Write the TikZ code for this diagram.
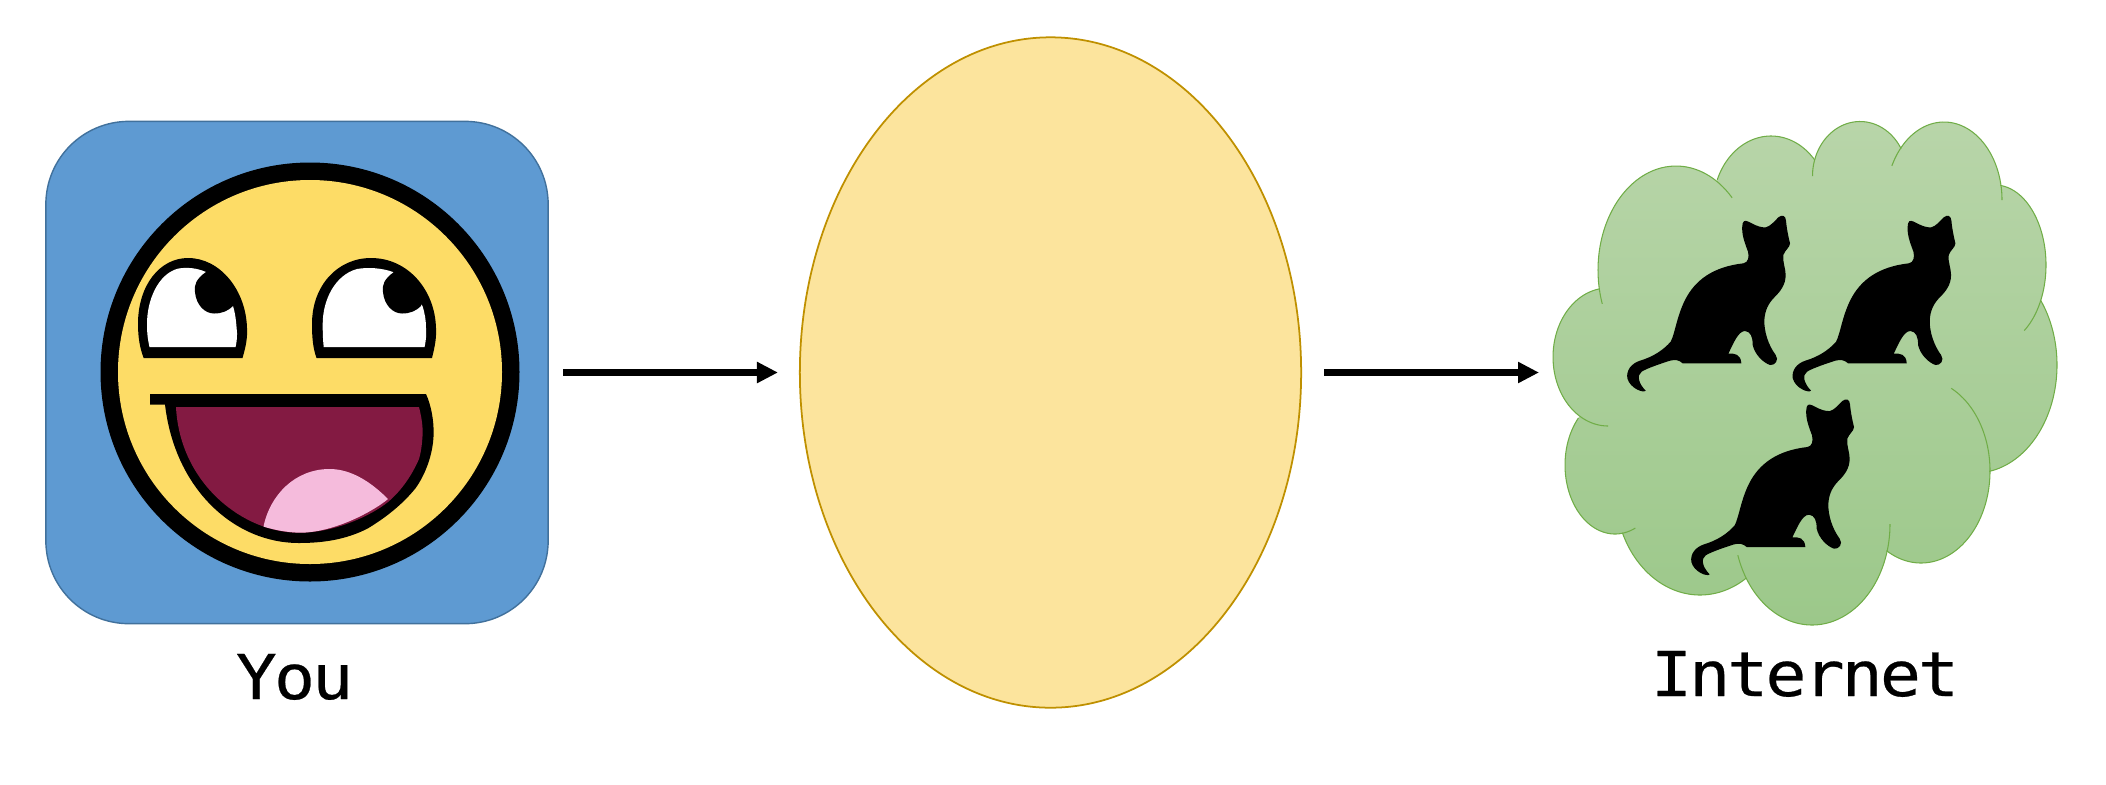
\documentclass[tikz,border=0pt]{standalone}
\usepackage{fontspec}
\setmonofont[FakeStretch=1.1,LetterSpace=-4.6,FakeBold=.4]{DejaVu Sans Mono}
\usetikzlibrary{arrows.meta,shapes.geometric}
\definecolor{BoxBlue}{HTML}{5E9AD2}
\definecolor{BoxEdge}{HTML}{41719C}
\definecolor{Sun}{HTML}{FDDC66}
\definecolor{Mouth}{HTML}{831A42}
\definecolor{Tongue}{HTML}{F5BBDC}
\definecolor{Gold}{HTML}{FCE49D}
\definecolor{GoldEdge}{HTML}{BF9000}
\definecolor{LeafTop}{HTML}{B8D5A9}
\definecolor{LeafLow}{HTML}{9CC88A}
\definecolor{LeafEdge}{HTML}{70AD47}
% cx/cy/rx/ry/from/to of each bump of the cloud
\newcommand{\lobes}{1608/357/55/69/90/261,1615/465/50/69/66/223,1700/490/85/105/57/156,1812/524/78/101/0/162,
  1921/471/69/92/-64/120,1975/365/82/108/-37/80,1995/265/51/80/-84/55,1944/200/58/78/-154/0,
  1860/176/47.5/54.5/-180/-30,1771/206/58/70/-158/-41,1676/270/78/104/-199/-44}
\tikzset{
  >={Triangle[length=2.1mm,width=2mm]},
  youbox/.style={draw=BoxEdge,fill=BoxBlue,line width=.4pt,rounded corners=8.3mm,minimum width=5.02cm,minimum height=5.02cm,inner sep=0pt},
  hole/.style={ellipse,draw=GoldEdge,fill=Gold,line width=.5pt,minimum width=5.01cm,minimum height=6.70cm,inner sep=0pt},
  flow/.style={->,line width=2pt,draw=black},
  lab/.style={font=\ttfamily\fontsize{17.6}{20}\selectfont,anchor=base,inner sep=0pt},
  cloudline/.style={draw=LeafEdge,line width=.3pt},
  cloudbody/.style={top color=LeafTop,bottom color=LeafLow},
  cat/.pic={
    \fill[black,scale=1/3] (368,70) .. controls (372,58) and (380,62) .. (395,70)
      .. controls (410,78) and (425,83) .. (437,82) .. controls (450,80) and (465,62) .. (475,52)
      .. controls (487,42) and (497,48) .. (498,62) .. controls (500,85) and (505,110) .. (510,130)
      .. controls (510,142) and (495,150) .. (490,165) .. controls (487,185) and (497,205) .. (497,225)
      .. controls (497,255) and (480,275) .. (465,290) .. controls (445,310) and (435,330) .. (433,360)
      .. controls (432,395) and (445,435) .. (467,465) .. controls (478,480) and (465,497) .. (450,495)
      .. controls (430,488) and (405,465) .. (398,435) .. controls (398,410) and (392,395) .. (375,393)
      .. controls (355,393) and (340,430) .. (325,461) .. controls (345,460) and (362,462) .. (364,490)
      -- (188,490) .. controls (178,480) and (165,478) .. (150,482) .. controls (125,490) and (80,505) .. (65,515)
      .. controls (50,525) and (55,550) .. (77,572) .. controls (70,580) and (30,565) .. (22,535)
      .. controls (18,510) and (35,490) .. (60,482) .. controls (100,470) and (130,450) .. (152,425)
      .. controls (165,400) and (170,350) .. (195,300) .. controls (225,240) and (280,200) .. (370,190)
      .. controls (385,188) and (388,170) .. (384,155) .. controls (375,130) and (362,100) .. (368,70) -- cycle;
  }
}
\begin{document}
\begin{tikzpicture}[x=.01cm,y=-.01cm]
  \useasboundingbox (0,0) rectangle (2106,784);
  \node[youbox] (you) at (297,372.5) {};
  \node[hole] (middle) at (1050.5,372.5) {};
  \coordinate (net) at (1553,372.5);
  % face
  \fill[black] (310,372) circle [radius=209.5];
  \fill[Sun] (310,372) circle [radius=192];
  \fill[black] (143.6,358) -- (242.5,358) .. controls (246,346) and (247.5,338) .. (247,328)
    .. controls (246,290) and (220,258) .. (188,258) .. controls (160,258) and (138,285) .. (138,324)
    .. controls (138,338) and (140,348) .. (143.6,358) -- cycle;
  \fill[white] (149.5,347) -- (235.6,347) .. controls (237,340) and (237.5,335) .. (236.6,328)
    .. controls (236,320) and (235,312) .. (233,306) -- (206,272) .. controls (197,268) and (187,267) .. (178,268.6)
    .. controls (158,274) and (147,300) .. (147,324) .. controls (147,335) and (148,340) .. (149.5,347) -- cycle;
  \fill[black] (316.5,358) -- (432,358) .. controls (435,346) and (436.5,338) .. (436,328)
    .. controls (435,290) and (408,258) .. (371,258) .. controls (338,258) and (312,285) .. (312,324)
    .. controls (312,338) and (313,348) .. (316.5,358) -- cycle;
  \fill[white] (323.7,347) -- (424.6,347) .. controls (426,340) and (426.5,335) .. (426,328)
    .. controls (426,320) and (424.5,312) .. (422.5,306) -- (393,272) .. controls (382,268) and (368,267) .. (357,269)
    .. controls (335,275) and (322.7,300) .. (322.7,324) .. controls (322.7,335) and (323,340) .. (323.7,347) -- cycle;
  \foreach \dx in {0,188}
    \fill[black,xshift=\dx*.01cm] (206,272) .. controls (196,279) and (194,285) .. (195,292)
      .. controls (196,305) and (205,313.5) .. (214,313.5) .. controls (222,313.5) and (228,311) .. (233,306)
      -- (235,290) -- (212,270) -- cycle;
  % mouth
  \fill[black] (150,394) -- (426,394) .. controls (431,405) and (434,420) .. (433.6,434.7)
    .. controls (433,455) and (425,475) .. (415.7,488) .. controls (402,505) and (385,518) .. (367.5,528.6)
    .. controls (345,540) and (322,543) .. (298.6,543) .. controls (235,543) and (175,490) .. (165,404.5)
    -- (150,404.5) -- cycle;
  \fill[Mouth] (176,407) -- (419,407) .. controls (421,415) and (423,425) .. (422.6,434.7)
    .. controls (422,445) and (421,452) .. (419,459) .. controls (412,475) and (402,490) .. (388,502)
    .. controls (372,515) and (335,533) .. (298.6,532.7) .. controls (245,533) and (180,485) .. (176,407) -- cycle;
  \fill[Tongue] (263.5,526.6) .. controls (270,495) and (295,469) .. (329.6,469)
    .. controls (352,469) and (372,483) .. (388,499) .. controls (375,510) and (335,533) .. (298.6,532.7)
    .. controls (285,532) and (275,530) .. (263.5,526.6) -- cycle;
  % cloud
  \shade[cloudbody] (1810,360) ellipse [x radius=180,y radius=190]
    foreach \cx/\cy/\rx/\ry/\from/\to in \lobes {(\cx,\cy) ellipse [x radius=\rx,y radius=\ry]};
  \foreach \cx/\cy/\rx/\ry/\from/\to in \lobes
    \draw[cloudline] plot[domain=\from:\to,samples=50,smooth] ({\cx+\rx*cos(\x)},{\cy+\ry*sin(\x)});
  \pic at (1620,200) {cat};
  \pic at (1785.4,200) {cat};
  \pic at (1684,383.7) {cat};
  % labels and arrows
  \node[lab] (youlab) at (294.5,699) {You};
  \node[lab] (netlab) at (1805,696) {Internet};
  \draw[flow,shorten <=.145cm,shorten >=.21cm] (you.east) -- (middle.west);
  \draw[flow,shorten <=.22cm,shorten >=.14cm] (middle.east) -- (net);
\end{tikzpicture}
\end{document}
